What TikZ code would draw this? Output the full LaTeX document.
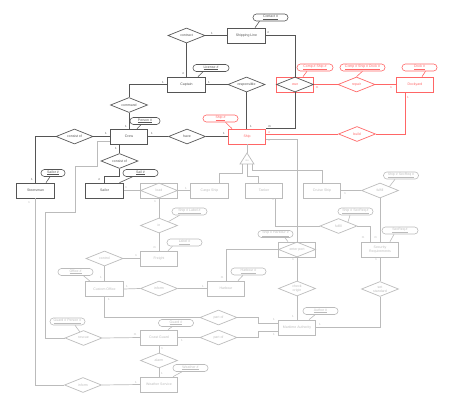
\documentclass[tikz,border=0pt]{standalone}
\usepackage{fontspec}
\setmainfont{Liberation Sans}
\usetikzlibrary{shapes.geometric,calc}
\definecolor{dk}{HTML}{555555}
\definecolor{rd}{HTML}{FF6666}
\definecolor{gy}{HTML}{BBBBBB}
\tikzset{
 base/.style={font=\fontsize{3.5}{4}\selectfont, inner sep=0pt, line width=0.7pt},
 ent/.style={base, draw, rectangle, minimum width=37.5pt, minimum height=15pt, align=center},
 rel/.style={base, draw, diamond, aspect=2.5, minimum width=37pt, minimum height=15pt, align=center},
 attr/.style={base, draw, rounded corners=3.4pt, minimum height=7pt, minimum width=35pt, line width=0.6pt},
 card/.style={font=\fontsize{3}{3}\selectfont, inner sep=0pt},
 cn/.style={line width=0.7pt},
 an/.style={line width=0.6pt},
 cdk/.style={draw=dk, text=dk},
 crd/.style={draw=rd, text=rd},
 cgy/.style={draw=gy, text=gy},
}
\begin{document}
\begin{tikzpicture}[x=1pt,y=-1pt]
\useasboundingbox (0,0) rectangle (454,406);
% ---------- dark elements
\node[ent,cdk] (SL) at (246.5,35.5) {Shipping Line};
\node[rel,cdk] (contract) at (186.5,35.5) {contract};
\node[ent,cdk] (Captain) at (186.5,84.5) {Captain};
\node[rel,cdk] (responsible) at (246.5,84.5) {responsible};
\node[rel,cdk] (command) at (129,105) {command};
\node[ent,cdk] (Crew) at (129,136.5) {Crew};
\node[rel,cdk] (have) at (187,136.5) {have};
\node[rel,cdk] (consistL) at (74.5,136.5) {consist of};
\node[rel,cdk] (consistB) at (119.5,161) {consist of};
\node[ent,cdk] (Steersman) at (35.5,190.5) {Steersman};
\node[ent,cdk] (Sailor) at (104.5,190.5) {Sailor};
\node[attr,cdk] (aContact) at (270.5,17.5) {\underline{Contact \#}};
\node[attr,cdk,minimum width=36pt] (aLicense) at (211,68) {\underline{License \#}};
\node[attr,cdk,minimum width=30pt] (aPerson) at (145,121) {\underline{Person \#}};
\node[attr,cdk,minimum width=24pt] (aSailorN) at (53,173) {\underline{Sailor \#}};
\node[attr,cdk] (aSail) at (140.5,173) {\underline{Sail \#}};
% ---------- red elements
\node[ent,crd] (ownbox) at (295,84.5) {};
\node[rel,draw=dk,text=rd] (own) at (295,84.5) {own};
\node[ent,crd] (Ship) at (247,136.5) {Ship};
\node[rel,crd] (repair) at (356.5,84.5) {repair};
\node[ent,crd] (Dockyard) at (415,84.5) {Dockyard};
\node[rel,crd] (build) at (357,134) {build};
\node[attr,crd] (aShip) at (220.5,118.5) {\underline{Ship \#}};
\node[attr,crd,minimum width=36pt] (aComp) at (315,67.5) {\underline{Comp \# Ship \#}};
\node[attr,crd,minimum width=45pt] (aCompD) at (362.5,67.5) {\underline{Comp \# Ship \# Dock \#}};
\node[attr,crd] (aDock) at (419.5,67.5) {\underline{Dock \#}};
% ---------- gray elements
\node[ent,cgy] (Cargo) at (209.5,190.5) {Cargo Ship};
\node[ent,cgy] (Tanker) at (264,190.5) {Tanker};
\node[ent,cgy] (Cruise) at (322,190.5) {Cruise Ship};
\node[ent,cgy] (loadbox) at (159,190.5) {};
\node[rel,cgy] (load) at (159,190.5) {load};
\node[rel,cgy] (fulfillT) at (380,190.5) {fulfill};
\node[rel,cgy] (fulfillB) at (338.5,226) {fulfill};
\node[ent,cgy] (SecReq) at (380,249.5) {Security\\Requirements};
\node[rel,cgy] (in) at (159,225.5) {in};
\node[ent,cgy] (Freight) at (159,258.5) {Freight};
\node[rel,cgy] (control) at (104.5,258.5) {control};
\node[ent,cgy] (CO) at (104.5,289) {Custom Office};
\node[rel,cgy] (inform) at (159,288.5) {inform};
\node[ent,cgy] (Harbour) at (226,288.5) {Harbour};
\node[ent,cgy] (enterbox) at (297,249.5) {};
\node[rel,cgy] (enter) at (297,249.5) {enter port};
\node[rel,cgy] (check) at (297,288.5) {check\\origin};
\node[rel,cgy] (setstd) at (380,289) {set\\standard};
\node[ent,cgy] (MA) at (297,327.5) {Maritime Authority};
\node[rel,cgy] (partofT) at (218.5,317.5) {part of};
\node[rel,cgy] (partofB) at (218.5,337.5) {part of};
\node[ent,cgy] (CG) at (159,337.5) {Coast Guard};
\node[rel,cgy] (alarm) at (159,360.5) {alarm};
\node[ent,cgy] (Weather) at (159,384.5) {Weather Service};
\node[rel,cgy] (rescue) at (83.5,338) {rescue};
\node[rel,cgy] (informB) at (83,385) {inform};
\node[attr,cgy] (aLabelS) at (189.5,211.5) {\underline{Ship \# Label \#}};
\node[attr,cgy] (aLabel) at (184.5,242.5) {\underline{Label \#}};
\node[attr,cgy] (aOffice) at (75.5,272) {\underline{Office \#}};
\node[attr,cgy] (aHarbour) at (248.5,271.5) {\underline{Harbour \#}};
\node[attr,cgy] (aShipH) at (275.5,234) {\underline{Ship \# Harbour \#}};
\node[attr,cgy] (aSecB) at (355.5,211.5) {\underline{Ship \# SecReq \#}};
\node[attr,cgy] (aSecT) at (401,175.5) {\underline{Ship \# SecReq \#}};
\node[attr,cgy,minimum width=36pt] (aSec) at (400,230.5) {\underline{SecReq \#}};
\node[attr,cgy] (aAuthor) at (320.5,311) {\underline{Author \#}};
\node[attr,cgy] (aGuard) at (176,323) {\underline{Guard \#}};
\node[attr,cgy] (aGuardP) at (67.5,321.5) {\underline{Guard \# Person \#}};
\node[attr,cgy] (aWeather) at (190.5,368) {\underline{Weather \#}};
% ISA triangle
\coordinate (isaT) at (247,153);
\coordinate (isaL) at (240,164);
\coordinate (isaR) at (254,164);
\coordinate (isaM) at (247,164);
\draw[cn,gy] (isaT) -- (isaR) -- (isaL) -- cycle;
\node[font=\fontsize{2.2}{2.5}\selectfont,text=gy,inner sep=0pt] (isatext) at (247,160.5) {ISA};
% ---------- dark connectors
\draw[cn,dk] (contract.east) -- (SL.west);
\draw[cn,dk] (SL.east) -| (ownbox.north);
\draw[cn,dk] (contract.south) -- (Captain.north);
\draw[cn,dk] (Captain.west) -| (command.north);
\draw[cn,dk] (Captain.east) -- (responsible.west);
\draw[cn,dk] (responsible.south) -- (responsible.south |- Ship.north);
\draw[cn,dk] (ownbox.south) |- (Ship.north east);
\draw[cn,dk] (command.south) -- (Crew.north);
\draw[cn,dk] (consistL.east) -- (Crew.west);
\draw[cn,dk] (consistL.west) -| (Steersman.north);
\draw[cn,dk] (Crew.east) -- (have.west);
\draw[cn,dk] (have.east) -- (Ship.west);
\draw[cn,dk] (Crew.south -| consistB.north) -- (consistB.north);
\draw[cn,dk] (consistB.south) -- ++(0,7) -| (Sailor.north);
% ---------- red connectors
\draw[cn,rd] (ownbox.east) -- (repair.west);
\draw[cn,rd] (repair.east) -- (Dockyard.west);
\draw[cn,rd] (Ship.east |- build.west) -- (build.west);
\draw[cn,rd] (build.east) -| ($(Dockyard.south)+(-10,0)$);
% ---------- gray connectors
\draw[cn,gy] ($(Ship.east)+(0,2.5)$) -| (enterbox.north);
\draw[cn,gy] (Ship.south) -- (isaT);
\draw[cn,gy] ($(isaL)+(2,0)$) -- ++(0,9) -| ($(Cargo.north)+(9.5,0)$);
\draw[cn,gy] (isaM) -- ++(0,12) -| ($(Tanker.north)+(-6,0)$);
\draw[cn,gy] ($(isaR)+(-2,0)$) -- ++(0,6) -| (Cruise.north);
\draw[cn,gy] (Sailor.east) -- (loadbox.west);
\draw[cn,gy] (loadbox.east) -- (Cargo.west);
\draw[cn,gy] (loadbox.south) -- (in.north);
\draw[cn,gy] (in.south) -- (Freight.north);
\draw[cn,gy] (Freight.west) -- (control.east);
\draw[cn,gy] (control.south) -- (CO.north);
\draw[cn,gy] (CO.east) -- (inform.west);
\draw[cn,gy] (inform.east) -- (Harbour.west);
\draw[cn,gy] (enterbox.west) -| (Harbour.north);
\draw[cn,gy] ($(Tanker.south)+(11,0)$) |- (fulfillB.west);
\draw[cn,gy] (fulfillB.east) -| ($(SecReq.north)+(-10,0)$);
\draw[cn,gy] (Cruise.east) -- (fulfillT.west);
\draw[cn,gy] (fulfillT.south) -- (SecReq.north);
\draw[cn,gy] (enterbox.south) -- (check.north);
\draw[cn,gy] (check.south) -- (MA.north);
\draw[cn,gy] (SecReq.south) -- (setstd.north);
\draw[cn,gy] (setstd.south) |- (MA.east);
\draw[cn,gy] (partofT.east) -- ++(20.5,0) |- ($(MA.west)+(0,-4.5)$);
\draw[cn,gy] (partofB.east) -- ++(20.5,0) |- ($(MA.west)+(0,3.5)$);
\draw[cn,gy] (CG.east) -- (partofB.west);
\draw[cn,gy] (CO.south) |- (partofT.west);
\draw[cn,gy] (rescue.east) -- (CG.west);
\draw[cn,gy] ($(Crew.west)+(0,4.5)$) -- (97,141) -- (97,166) -- (75,166) -- (75,212) -- (45,212) -- (45,338) -- (rescue.west);
\draw[cn,gy] (Steersman.south) |- (informB.west);
\draw[cn,gy] (informB.east) -- (Weather.west);
\draw[cn,gy] (CG.south) -- (alarm.north);
\draw[cn,gy] (alarm.south) -- (Weather.north);
% ---------- attribute links
\draw[an,dk] ($(aContact.south)+(-11,0)$) -- ($(SL.north)+(8.5,0)$);
\draw[an,dk] ($(aLicense.south)+(-8,0)$) -- ($(Captain.north)+(11.5,0)$);
\draw[an,dk] ($(aPerson.south)+(-4,0)$) -- ($(Crew.north)+(8,0)$);
\draw[an,dk] ($(aSailorN.south)+(-3,0)$) -- ($(Steersman.north)+(10.5,0)$);
\draw[an,dk] ($(aSail.south)+(-8,0)$) -- ($(Sailor.north)+(15,0)$);
\draw[an,rd] ($(aShip.south)+(5,0)$) -- ($(Ship.north)+(-15,0)$);
\draw[an,rd] ($(aComp.south)+(-8,0)$) -- ($(ownbox.north)+(8,0)$);
\draw[an,rd] (aCompD.south) -- (repair.north);
\draw[an,rd] ($(aDock.south)+(6,0)$) -- ($(Dockyard.north)+(7,0)$);
\draw[an,gy] ($(aLabelS.south)+(-10,0)$) -- (in.north east);
\draw[an,gy] ($(aLabel.south)+(-12,0)$) -- ($(Freight.north)+(9,0)$);
\draw[an,gy] ($(aOffice.south)+(8,0)$) -- ($(CO.north)+(-14.5,0)$);
\draw[an,gy] ($(aHarbour.south)+(-5.5,0)$) -- ($(Harbour.north)+(12,0)$);
\draw[an,gy] ($(aShipH.south)+(9.5,0)$) -- ($(enterbox.north)+(-9,0)$);
\draw[an,gy] ($(aSecB.south)+(-5.5,0)$) -- (fulfillB.north east);
\draw[an,gy] ($(aSecT.south)+(-6,0)$) -- (fulfillT.north east);
\draw[an,gy] ($(aSec.south)+(-6,0)$) -- ($(SecReq.north)+(10,0)$);
\draw[an,gy] ($(aAuthor.south)+(-5.5,0)$) -- ($(MA.north)+(12,0)$);
\draw[an,gy] ($(aGuard.south)+(-4,0)$) -- ($(CG.north)+(9,0)$);
\draw[an,gy] ($(aGuardP.south)+(7.5,0)$) -- ($(rescue.north)!0.2!(rescue.west)$);
\draw[an,gy] ($(aWeather.south)+(-8.5,0)$) -- ($(Weather.north)+(14,0)$);
% ---------- cardinalities
\begin{scope}[every node/.style={card}]
\node[text=dk] (k1) at (212,33) {1};
\node[text=dk] (k2) at (268.5,33) {n};
\node[text=dk] (k3) at (183.5,74) {n};
\node[text=dk] (k4) at (163,82) {1};
\node[text=dk] (k5) at (209,82) {1};
\node[text=dk] (k6) at (126,126) {1};
\node[text=dk] (k7) at (106,133.5) {1};
\node[text=dk] (k8) at (32,179.5) {1};
\node[text=dk] (k9) at (152,133.5) {1};
\node[text=dk] (k10) at (224,133.5) {1};
\node[text=dk] (k11) at (116,148) {1};
\node[text=dk] (k12) at (99.5,180) {n};
\node[text=dk] (k13) at (251,126) {1};
\node[text=dk] (k14) at (269.5,127) {m};
\node[text=rd] (k15) at (317,88) {m};
\node[text=rd] (k16) at (391,88) {n};
\node[text=rd] (k17) at (408,97) {1};
\node[text=rd] (k18) at (269.5,132.5) {n};
\node[text=gy] (k19) at (269.5,141) {n};
\node[text=gy] (k20) at (126,188) {n};
\node[text=gy] (k21) at (186,188) {1};
\node[text=gy] (k22) at (155,202) {n};
\node[text=gy] (k23) at (154.5,248) {m};
\node[text=gy] (k24) at (136,256) {n};
\node[text=gy] (k25) at (101,277) {1};
\node[text=gy] (k26) at (127,286) {1};
\node[text=gy] (k27) at (203,286) {1};
\node[text=gy] (k28) at (222,278) {m};
\node[text=gy] (k29) at (273,200) {n};
\node[text=gy] (k30) at (363,238) {m};
\node[text=gy] (k31) at (345,193.5) {n};
\node[text=gy] (k32) at (375.5,238) {m};
\node[text=gy] (k33) at (293,260) {n};
\node[text=gy] (k34) at (293,316) {1};
\node[text=gy] (k35) at (376,260) {n};
\node[text=gy] (k36) at (320,324) {1};
\node[text=gy] (k37) at (274,319) {1};
\node[text=gy] (k38) at (274,334) {1};
\node[text=gy] (k39) at (182,340.5) {1};
\node[text=gy] (k40) at (109,299) {1};
\node[text=gy] (k41) at (135,335) {m};
\node[text=gy] (k42) at (29,203) {n};
\node[text=gy] (k43) at (136,382) {1};
\node[text=gy] (k44) at (162,349) {n};
\node[text=gy] (k45) at (162,373) {1};
\end{scope}
\end{tikzpicture}
\end{document}
